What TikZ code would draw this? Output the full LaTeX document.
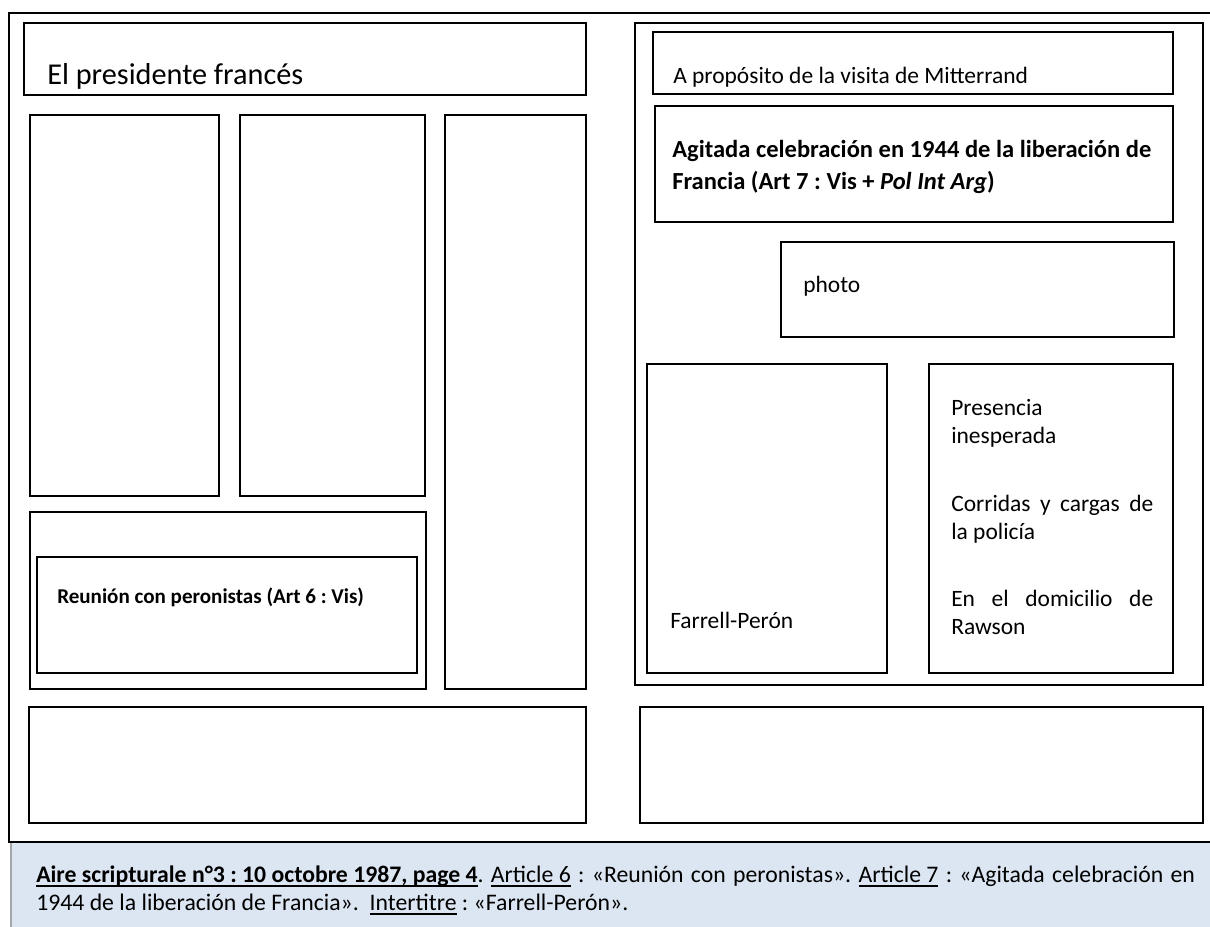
\documentclass[tikz,border=0pt]{standalone}
\usepackage{fontspec}
\setmainfont{Carlito}
\usepackage{xcolor}
\usepackage{tikz}
\usetikzlibrary{positioning}
\frenchspacing

\definecolor{capfill}{HTML}{DCE6F2}
\definecolor{capedge}{HTML}{A6A6A6}
% underline sitting just under the baseline
\newcommand\capul[2][0.8pt]{\setbox0\hbox{#2}\rlap{\rule[-3.4pt]{\wd0}{#1}}\box0\relax}

\begin{document}
\begin{tikzpicture}[
  x=0.75pt, y=-0.75pt,
  pane/.style={draw=black,line width=1.1pt},
  txt/.style={anchor=base west,inner sep=0pt,font=\fontsize{17.6}{21}\selectfont},
  head/.style={txt,font=\fontsize{22.7}{27}\selectfont},
  bhead/.style={txt,font=\bfseries\fontsize{18.4}{22}\selectfont},
  shead/.style={txt,font=\bfseries\fontsize{15.8}{19}\selectfont},
  captxt/.style={txt,font=\fontsize{17.8}{21}\selectfont},
]
\useasboundingbox (0,0) rectangle (1210,926);

% page frame and caption band
\fill[capfill] (11,843) rectangle (1215,930);
\draw[capedge,line width=1pt] (11,843) -- (11,930);
\draw[pane] (1215,13) -- (9,13) -- (9,842) -- (1215,842);

% left half
\draw[pane] (24,23) rectangle (586,95);
\draw[pane] (30,115) rectangle (219,496);
\draw[pane] (240,115) rectangle (425,496);
\draw[pane] (445,115) rectangle (586,689);
\draw[pane] (30,512) rectangle (426,689);
\draw[pane] (37,557) rectangle (417,673);
\draw[pane] (29,707) rectangle (586,823);

% right half
\draw[pane] (635,23) rectangle (1203,685);
\draw[pane] (653,32) rectangle (1173,94);
\draw[pane] (655,106) rectangle (1173,222);
\draw[pane] (781,242) rectangle (1174,337);
\draw[pane] (647,364) rectangle (887,673);
\draw[pane] (929,364) rectangle (1173,673);
\draw[pane] (640,707) rectangle (1203,823);

% texts
\node[head] (presid) at (47,84) {El presidente francés};
\node[shead] (art6) at (57,603) {Reunión con peronistas (Art 6 : Vis)};
\node[txt] (mitt) at (673,83) {A propósito de la visita de Mitterrand};
\node[bhead] (agit1) at (672,157) {Agitada celebración en 1944 de la liberación de};
\node[bhead] (agit2) at (672,189) {Francia (Art 7 : Vis + \textit{Pol Int Arg})};
\node[txt] (photo) at (803,292) {photo};
\node[txt] (farrell) at (670,628) {Farrell-Perón};
\node[txt] (pres1) at (951,415) {Presencia};
\node[txt] (pres2) at (951,443) {inesperada};
\node[txt] (corr1) at (951,511) {\makebox[151.5pt][s]{Corridas y cargas de}};
\node[txt] (corr2) at (951,539) {la policía};
\node[txt] (domi1) at (951,606) {\makebox[151.5pt][s]{En el domicilio de}};
\node[txt] (domi2) at (951,634) {Rawson};

% caption (first line justified)
\node[captxt] (cap1) at (36,882) {\makebox[869pt][s]{\capul[1pt]{\bfseries Aire scripturale n°3 : 10 octobre 1987, page 4}.
  \capul{Article 6} : «Reunión con peronistas». \capul{Article 7} : «Agitada celebración en}};
\node[captxt] (cap2) at (36,910) {1944 de la liberación de Francia».\ \ \capul{Intertitre} : «Farrell-Perón».};
\end{tikzpicture}
\end{document}
